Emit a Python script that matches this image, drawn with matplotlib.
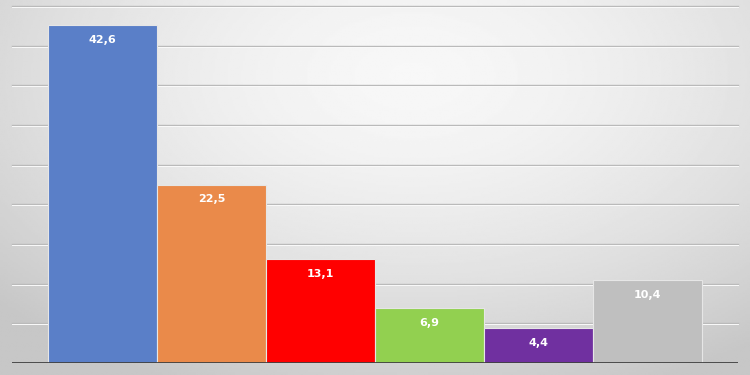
import numpy as np
import matplotlib.pyplot as plt

# data
values = [42.6, 22.5, 13.1, 6.9, 4.4, 10.4]
labels = ["42,6", "22,5", "13,1", "6,9", "4,4", "10,4"]
colors = ['#5a7fc8', '#ea8a4a', '#ff0000', '#92d050', '#7030a0', '#bfbfbf']
grid_vals = [5, 10, 15, 20, 25, 30, 35, 40, 45]

fig = plt.figure(figsize=(7.5, 3.75), dpi=100)

# radial gradient background
bg = fig.add_axes([0, 0, 1, 1])
xx, yy = np.meshgrid(np.linspace(0, 1, 400), np.linspace(0, 1, 200))
r = np.sqrt(((xx - 0.55) / 0.75) ** 2 + ((yy - 0.2) / 0.9) ** 2)
r = np.clip(r, 0, 1)
shade = 0.97 - 0.19 * r ** 1.6
bg.imshow(shade, cmap='gray', vmin=0, vmax=1, extent=[0, 1, 1, 0], aspect='auto')
bg.set_axis_off()

ax = fig.add_axes([12 / 750, 12 / 375, 726 / 750, 357 / 375])
ax.patch.set_alpha(0)
x = np.arange(len(values))

# embossed gridlines
for g in grid_vals:
    ax.axhline(g, color='#bababa', lw=1.0, zorder=1, clip_on=False)
    ax.axhline(g - 0.14, color='#fafafa', lw=0.7, zorder=1, clip_on=False)

ax.bar(x, values, width=1.0, color=colors, edgecolor='#e6e6e6', linewidth=0.8, zorder=3)
ax.axhline(0, color='#404040', lw=2, zorder=4)

for xi, v, t in zip(x, values, labels):
    ax.annotate(t, (xi, v), xytext=(0, -10.5), textcoords='offset points',
                ha='center', va='center', color='white', fontsize=8, fontweight='bold', zorder=5)

ax.set_xlim(-0.83, 5.83)
ax.set_ylim(0, 45)
ax.set_xticks([])
ax.set_yticks([])
for s in ax.spines.values():
    s.set_visible(False)

fig.savefig('out.png', dpi=100)
